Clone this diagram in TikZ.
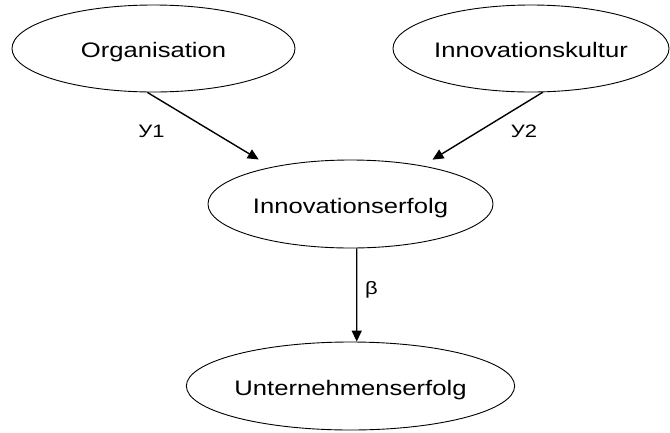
\documentclass[tikz,border=0pt]{standalone}
\usepackage{fontspec}
\setmainfont{Liberation Sans}
\usetikzlibrary{shapes.geometric,arrows.meta}
\newcommand{\widetext}[1]{\scalebox{1.22}[1]{#1}}
\begin{document}
\begin{tikzpicture}[x=1pt,y=-1pt,
  factor/.style={ellipse,draw,line width=0.9pt,inner sep=0pt,text height=18pt,text depth=0pt,font=\fontsize{21}{25}\selectfont},
  effect/.style={line width=1.4pt,-{Triangle[length=11pt,width=10pt]}},
  coef/.style={inner sep=0pt,font=\fontsize{18}{22}\selectfont}]
\useasboundingbox (0,0) rectangle (670,432);

\node[factor,minimum width=283pt,minimum height=87pt] (org) at (153.5,48.5) {\widetext{Organisation}};
\node[factor,minimum width=276pt,minimum height=87pt] (kult) at (531,48.5) {\widetext{Innovationskultur}};
\node[factor,minimum width=285pt,minimum height=88pt] (inno) at (350.5,204) {\widetext{Innovationserfolg}};
\node[factor,minimum width=285pt,minimum height=88pt] (unt) at (350.5,386) {\widetext{Unternehmenserfolg}};

\draw[effect,shorten >=14.6pt] (org.-98) -- (inno.155.5);
\draw[effect,shorten >=11.5pt] (kult.-75) -- (inno.28);
\draw[effect] (inno.-82) -- (unt.82);

\node[coef] (g1) at (151.5,131.5) {\widetext{У1}};
\node[coef] (g2) at (524,131.5) {\widetext{У2}};
\node[coef] (beta) at (371.5,290) {\widetext{β}};
\end{tikzpicture}
\end{document}
